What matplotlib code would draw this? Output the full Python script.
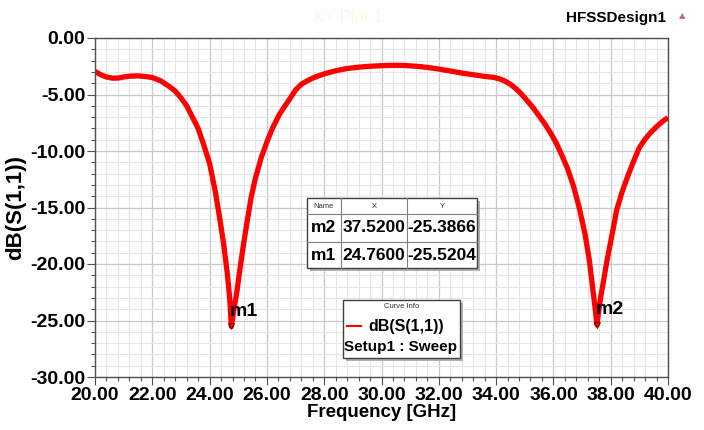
import matplotlib
matplotlib.use("Agg")
import matplotlib.pyplot as plt
from matplotlib.patches import Rectangle
from matplotlib.ticker import MultipleLocator, FormatStrFormatter
from matplotlib.lines import Line2D

plt.rcParams['font.family'] = ['Liberation Sans', 'DejaVu Sans']

# ---- data ----
freq = [20.0, 20.2, 20.4, 20.6, 20.8, 21.0, 21.2, 21.5, 21.8, 22.0, 22.3, 22.6, 22.8, 23.0,
        23.2, 23.4, 23.6, 23.8, 24.0, 24.2, 24.35, 24.5, 24.62, 24.7, 24.76, 24.85, 24.95,
        25.05, 25.17, 25.3, 25.45, 25.6, 25.8, 26.0, 26.2, 26.45, 26.7, 26.9, 27.0, 27.2,
        27.4, 27.6, 27.85, 28.1, 28.4, 28.8, 29.2, 29.6, 30.0, 30.4, 30.8, 31.2, 31.6, 32.0,
        32.4, 32.8, 33.2, 33.6, 33.9, 34.1, 34.3, 34.5, 34.7, 34.9, 35.1, 35.3, 35.5, 35.7,
        35.9, 36.1, 36.3, 36.5, 36.7, 36.9, 37.1, 37.25, 37.38, 37.46, 37.52, 37.58, 37.66,
        37.75, 37.85, 37.97, 38.1, 38.2, 38.4, 38.6, 38.8, 39.0, 39.2, 39.4, 39.6, 39.8,
        40.0]
s11_db = [-2.95, -3.25, -3.45, -3.55, -3.55, -3.45, -3.38, -3.35, -3.42, -3.5, -3.8, -4.3,
          -4.7, -5.3, -6.0, -7.0, -8.0, -9.5, -11.1, -13.6, -15.9, -18.4, -20.9, -23.0,
          -25.52, -24.0, -22.5, -20.6, -18.5, -16.4, -14.1, -12.4, -10.6, -9.2, -7.95, -6.7,
          -5.75, -5.0, -4.6, -4.1, -3.8, -3.55, -3.3, -3.1, -2.9, -2.7, -2.58, -2.5, -2.45,
          -2.42, -2.43, -2.5, -2.6, -2.75, -2.92, -3.1, -3.25, -3.4, -3.48, -3.6, -3.8, -4.1,
          -4.5, -5.0, -5.6, -6.2, -6.9, -7.6, -8.4, -9.3, -10.4, -11.6, -13.1, -15.0, -17.3,
          -19.6, -22.3, -24.0, -25.39, -24.2, -22.8, -21.5, -20.0, -18.4, -16.7, -15.3, -13.6,
          -12.2, -10.9, -9.7, -8.95, -8.35, -7.85, -7.4, -7.05]

marker_names = ["m1", "m2"]
marker_x = [24.76, 37.52]
marker_y = [-25.5204, -25.3866]
table_names = ["m2", "m1"]
table_x = ["37.5200", "24.7600"]
table_y = ["-25.3866", "-25.5204"]

W, H = 704, 430
fig = plt.figure(figsize=(W / 100, H / 100), dpi=100)
fig.patch.set_facecolor('white')

def fx(px):
    return px / W

def fy(py):
    return 1 - py / H

ax = fig.add_axes([fx(95), fy(377), (668 - 95) / W, (377 - 38) / H])
ax.set_xlim(20, 40)
ax.set_ylim(-30, 0)

ax.xaxis.set_major_locator(MultipleLocator(2))
ax.xaxis.set_minor_locator(MultipleLocator(0.4))
ax.yaxis.set_major_locator(MultipleLocator(5))
ax.yaxis.set_minor_locator(MultipleLocator(1))
ax.xaxis.set_major_formatter(FormatStrFormatter('%.2f'))
ax.yaxis.set_major_formatter(FormatStrFormatter('%.2f'))

ax.grid(which='major', color='#c8c8c8', linewidth=0.9)
ax.grid(which='minor', color='#e6e6e6', linewidth=0.8)
ax.set_axisbelow(True)

for s in ax.spines.values():
    s.set_color('#505050')
    s.set_linewidth(1.0)

ax.tick_params(which='major', direction='out', length=6, width=0.8, color='#505050',
               labelsize=14, pad=1)
ax.tick_params(which='minor', direction='out', length=3, width=0.8, color='#505050')
for lbl in ax.get_xticklabels() + ax.get_yticklabels():
    lbl.set_fontweight('bold')

ax.plot(freq, s11_db, color='#ff0000', linewidth=3.8, solid_capstyle='butt',
        solid_joinstyle='round')

# markers
for name, mx, my in zip(marker_names, marker_x, marker_y):
    ax.plot([mx], [my], marker='v', markersize=4, markerfacecolor='none',
            markeredgecolor='#600000', markeredgewidth=0.6)
    ax.text(mx - 0.05, my + 0.6, name, fontsize=14, fontweight='bold', ha='left',
            va='bottom', color='black')

ax.set_xlabel('Frequency [GHz]', fontsize=13.5, fontweight='bold', labelpad=0)
ax.set_ylabel('dB(S(1,1))', fontsize=16, fontweight='bold', labelpad=3)

# title and design name
fig.text(fx(348), fy(18), 'XY Plot 1', fontsize=12, color='#fdf8e6', ha='center',
         va='center')
fig.text(fx(666), fy(18), 'HFSSDesign1', fontsize=11, fontweight='bold', ha='right',
         va='center', color='black')
fig.text(fx(682), fy(16), '\u25B2', fontsize=6, color='#c86a6a', ha='center', va='center',
         family=['DejaVu Sans'])

# marker table
tl, tr, tt, tb = 307, 477, 198, 268
col = [307, 341, 407, 477]
rows = [198, 214, 242, 268]
fig.patches.append(Rectangle((fx(tl + 3), fy(tb + 3)), (tr - tl) / W, (tb - tt) / H,
                             transform=fig.transFigure, facecolor='#b0b0b0',
                             edgecolor='none', zorder=5))
fig.patches.append(Rectangle((fx(tl), fy(tb)), (tr - tl) / W, (tb - tt) / H,
                             transform=fig.transFigure, facecolor='white',
                             edgecolor='#404040', linewidth=1.0, zorder=6))
for c in col[1:-1]:
    fig.lines.append(Line2D([fx(c), fx(c)], [fy(tt), fy(tb)], transform=fig.transFigure,
                            color='#808080', linewidth=0.8, zorder=7))
for r in rows[1:-1]:
    fig.lines.append(Line2D([fx(tl), fx(tr)], [fy(r), fy(r)], transform=fig.transFigure,
                            color='#808080', linewidth=0.8, zorder=7))
headers = ["Name", "X", "Y"]
for i, h in enumerate(headers):
    fig.text(fx((col[i] + col[i + 1]) / 2), fy((rows[0] + rows[1]) / 2), h, fontsize=5.5,
             ha='center', va='center', zorder=8, color='#303030')
for j in range(2):
    cy = fy((rows[j + 1] + rows[j + 2]) / 2)
    vals = [table_names[j], table_x[j], table_y[j]]
    for i, v in enumerate(vals):
        fig.text(fx((col[i] + col[i + 1]) / 2), cy, v, fontsize=12.5, fontweight='bold',
                 ha='center', va='center', zorder=8)

# curve info box
bl, br, bt, bb = 343, 460, 300, 358
fig.patches.append(Rectangle((fx(bl + 3), fy(bb + 3)), (br - bl) / W, (bb - bt) / H,
                             transform=fig.transFigure, facecolor='#b0b0b0',
                             edgecolor='none', zorder=5))
fig.patches.append(Rectangle((fx(bl), fy(bb)), (br - bl) / W, (bb - bt) / H,
                             transform=fig.transFigure, facecolor='white',
                             edgecolor='#404040', linewidth=1.0, zorder=6))
fig.text(fx((bl + br) / 2), fy(307), 'Curve Info', fontsize=5.5, ha='center', va='center',
         zorder=8, color='#303030')
fig.lines.append(Line2D([fx(347), fx(361)], [fy(326), fy(326)], transform=fig.transFigure,
                        color='#ff0000', linewidth=1.5, zorder=8))
fig.text(fx(406), fy(326), 'dB(S(1,1))', fontsize=11.5, fontweight='bold', ha='center',
         va='center', zorder=8)
fig.text(fx(401), fy(347), 'Setup1 : Sweep', fontsize=11, fontweight='bold', ha='center',
         va='center', zorder=8)

fig.savefig('out.png', dpi=100)
